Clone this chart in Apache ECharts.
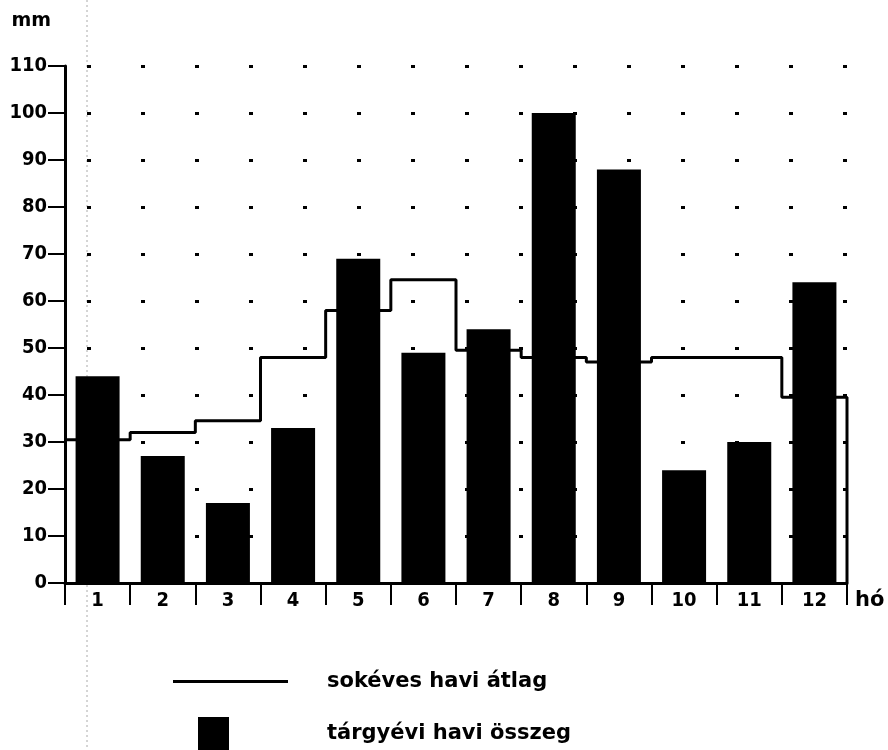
<!DOCTYPE html>
<html>
<head>
<meta charset="utf-8">
<script src="https://cdn.jsdelivr.net/npm/echarts@6/dist/echarts.min.js"></script>
<style>
html,body{margin:0;padding:0;background:#fff;}
#c{width:888px;height:750px;}
</style>
</head>
<body>
<div id="c"></div>
<script>
// Data
var months = ['1','2','3','4','5','6','7','8','9','10','11','12'];
var yearTotal = [44, 27, 17, 33, 69, 49, 54, 100, 88, 24, 30, 64];      // tárgyévi havi összeg (bars)
var longAvg = [30.5, 32, 34.5, 48, 58, 64.5, 49.5, 48, 47, 48, 48, 39.5]; // sokéves havi átlag (step line)
var yTicks = [0, 110, 10]; // min, max, interval

var lineName = 'sokéves havi átlag';
var barName = 'tárgyévi havi összeg';

// step line: horizontal segment over each month, closing drop at the right edge
var stepData = longAvg.map(function (v, i) { return [i, v]; });
stepData.push([months.length, longAvg[longAvg.length - 1]]);
stepData.push([months.length, 0]);

var FONT = "'DejaVu Sans Condensed', 'DejaVu Sans', sans-serif";
var LFONT = "'DejaVu Sans', sans-serif";

var chart = echarts.init(document.getElementById('c'), null, {renderer: 'canvas'});
chart.setOption({
  backgroundColor: '#fff',
  animation: false,
  grid: {left: 65, right: 41, top: 66, bottom: 167, containLabel: false},
  legend: [
    {
      data: [{name: lineName, icon: 'rect'}],
      left: 173, top: 671, orient: 'vertical', padding: 0,
      itemWidth: 115, itemHeight: 3,
      selectedMode: false,
      textStyle: {fontFamily: LFONT, fontWeight: 'bold', fontSize: 21, color: '#000', padding: [0, 0, 0, 34]}
    },
    {
      data: [{name: barName, icon: 'rect'}],
      left: 198, top: 717, orient: 'vertical', padding: 0,
      itemWidth: 31, itemHeight: 34,
      selectedMode: false,
      textStyle: {fontFamily: LFONT, fontWeight: 'bold', fontSize: 21, color: '#000', padding: [0, 0, 0, 93]}
    }
  ],
  graphic: [
    {
      type: 'line', silent: true, z: -1,
      shape: {x1: 87, y1: 0, x2: 87, y2: 750},
      style: {stroke: '#aaa', lineWidth: 1, lineDash: [2, 3]}
    }
  ],
  xAxis: [
    {
      type: 'category', data: months, boundaryGap: true,
      name: 'hó', nameLocation: 'end', nameGap: 8,
      nameTextStyle: {fontFamily: LFONT, fontWeight: 'bold', fontSize: 21, color: '#000', verticalAlign: 'top', padding: [7, 0, 0, 0]},
      axisLine: {show: true, lineStyle: {color: '#000', width: 3}},
      axisTick: {show: true, interval: 0, length: 22, lineStyle: {color: '#000', width: 2}},
      axisLabel: {interval: 0, margin: 8, fontFamily: FONT, fontWeight: 'bold', fontSize: 20, color: '#000'},
      splitLine: {show: false}
    },
    {
      type: 'value', min: 0, max: months.length, show: false
    }
  ],
  yAxis: {
    type: 'value', min: yTicks[0], max: yTicks[1], interval: yTicks[2],
    name: 'mm', nameLocation: 'end', nameGap: 35,
    nameTextStyle: {fontFamily: LFONT, fontWeight: 'bold', fontSize: 19, color: '#000', align: 'right', padding: [0, 14, 0, 0]},
    axisLine: {show: true, lineStyle: {color: '#000', width: 3}},
    axisTick: {show: true, length: 17, lineStyle: {color: '#000', width: 2}},
    axisLabel: {margin: 18, fontFamily: FONT, fontWeight: 'bold', fontSize: 20, color: '#000'},
    splitLine: {show: true, lineStyle: {color: '#000', width: 3, type: [4, 50], dashOffset: 32}}
  },
  series: [
    {
      name: barName, type: 'bar', data: yearTotal, barWidth: 44,
      itemStyle: {color: '#000'}, z: 2
    },
    {
      name: lineName, type: 'line', xAxisIndex: 1, data: stepData, step: 'end',
      symbol: 'none', lineStyle: {color: '#000', width: 3}, itemStyle: {color: '#000'}, z: 3
    }
  ]
});
</script>
</body>
</html>
